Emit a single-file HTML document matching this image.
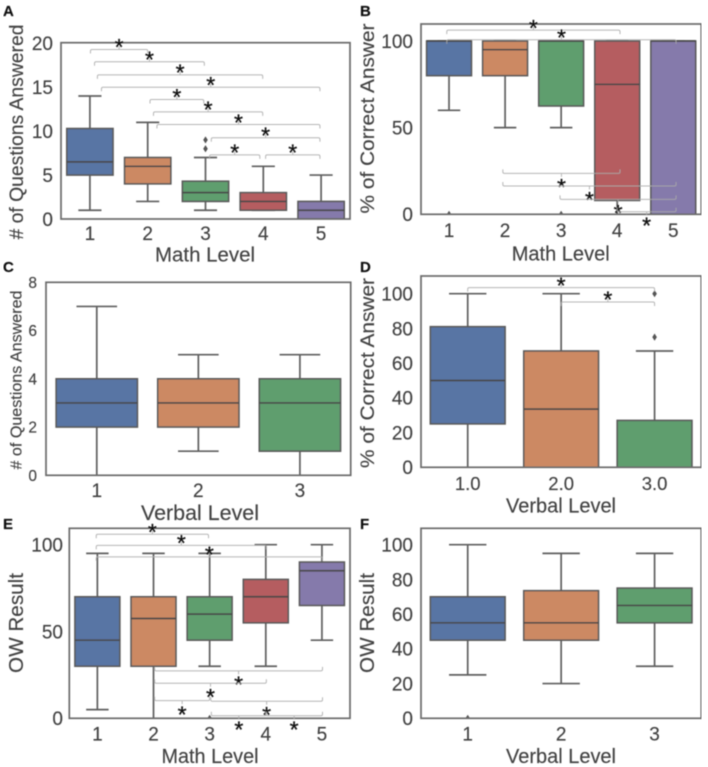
<!DOCTYPE html>
<html lang="en">
<head>
<meta charset="utf-8">
<title>Box plots by math and verbal level</title>
<style>
html,body{margin:0;padding:0;background:#fff;width:708px;height:767px;overflow:hidden}
svg{display:block}
text{font-family:"Liberation Sans",Arial,sans-serif;fill:#424242;stroke:#424242;stroke-width:0.15}
</style>
</head>
<body>
<svg id="figure" xmlns="http://www.w3.org/2000/svg" width="708" height="767" viewBox="0 0 708 767">
<defs>
<filter id="soft" x="0" y="0" width="100%" height="100%"><feGaussianBlur stdDeviation="0.4"/></filter>
</defs>
<g id="root" filter="url(#soft)"></g>
</svg>
<script>
// Panel A
const aCategories = ["1","2","3","4","5"];
const aLow = [1,2,1,1,0];
const aQ1 = [5,4,2,1,0];
const aMedian = [6.5,6,3,2,1];
const aQ3 = [10.3,7,4.3,3,2];
const aHigh = [14,11,7,6,5];
const aFliers = [[],[],[8,9],[],[]];
const aTicks = [0,5,10,15,20];
const aBracketFrom = [1.01,1.08,1.13,1.2,2.04,2.1,2.16,3.1,3.07,4.04];
const aBracketTo = [2,2.98,3.99,4.98,2.97,3.99,4.98,4.98,3.94,4.98];
const aBracketLevel = [19.3,17.9,16.4,15,13.6,12.2,10.75,9.25,7.3,7.3];
const aBracketSide = [1,1,1,1,1,1,1,1,1,1];

// Panel B
const bCategories = ["1","2","3","4","5"];
const bLow = [60,50,50,0,0];
const bQ1 = [80,80,62.5,8,0];
const bMedian = [100,95,100,75,100];
const bQ3 = [100,100,100,100,100];
const bHigh = [100,100,100,100,100];
const bFliers = [[0],[],[0],[],[]];
const bTicks = [0,50,100];
const bBracketFrom = [0.96,0.96,1.96,1.96,2.98,4];
const bBracketTo = [4.05,5.05,4.05,5.05,5.05,5.05];
const bBracketLevel = [106.3,100.7,23.6,16.3,8.6,1.5];
const bBracketSide = [1,1,-1,-1,-1,-1];

// Panel C
const cCategories = ["1","2","3"];
const cLow = [0,1,0];
const cQ1 = [2,2,1];
const cMedian = [3,3,3];
const cQ3 = [4,4,4];
const cHigh = [7,5,5];
const cFliers = [[],[],[]];
const cTicks = [0,2,4,6,8];
const cBracketFrom = [];
const cBracketTo = [];
const cBracketLevel = [];
const cBracketSide = [];

// Panel D
const dCategories = ["1.0","2.0","3.0"];
const dLow = [0,0,0];
const dQ1 = [25,0,0];
const dMedian = [50,33.5,0];
const dQ3 = [81,67,27];
const dHigh = [100,100,67];
const dFliers = [[],[],[75,100]];
const dTicks = [0,20,40,60,80,100];
const dBracketFrom = [1,2];
const dBracketTo = [3,3];
const dBracketLevel = [103.5,95.2];
const dBracketSide = [1,1];

// Panel E
const eCategories = ["1","2","3","4","5"];
const eLow = [5,0,30,30,45];
const eQ1 = [30,30,45,55,65];
const eMedian = [45,57.5,60,70,85];
const eQ3 = [70,70,70,80,90];
const eHigh = [95,95,95,100,100];
const eFliers = [[],[],[0],[],[]];
const eTicks = [0,50,100];
const eBracketFrom = [0.98,0.98,0.98,2.02,2.02,2.02,3.02,3.03,4];
const eBracketTo = [2.98,4.01,5.01,5.01,4.01,3,5.01,4.01,5.01];
const eBracketLevel = [106,99.6,93,27.3,20.2,10.2,9.8,1.5,1.5];
const eBracketSide = [1,1,1,-1,-1,-1,-1,-1,-1];

// Panel F
const fCategories = ["1","2","3"];
const fLow = [25,20,30];
const fQ1 = [45,45,55];
const fMedian = [55,55,65];
const fQ3 = [70,73.5,75];
const fHigh = [100,95,95];
const fFliers = [[0],[],[]];
const fTicks = [0,20,40,60,80,100];
const fBracketFrom = [];
const fBracketTo = [];
const fBracketLevel = [];
const fBracketSide = [];

const boxColors = ["#5875a4","#cc8963","#5f9e6e","#b55d60","#857aab"];
const NS = "http://www.w3.org/2000/svg";
const root = document.getElementById("root");

function make(tag, parent, attrs, content){
  const el = document.createElementNS(NS, tag);
  for (const k in attrs) el.setAttribute(k, attrs[k]);
  if (content !== undefined) el.textContent = content;
  parent.appendChild(el);
  return el;
}

function drawPanel(p){
  const g = make("g", root, {});
  
  

  const unit = (p.right - p.left) / p.categories.length;
  const xAt = function(c){ return p.left + unit * (c - 0.5); };
  const yAt = function(v){ return p.bottom - (v / p.yMax) * (p.bottom - p.yMaxPos); };

  const letter = make("text", g, {x:p.letterX, y:p.letterY, "font-size":15, "font-weight":"bold", style:"fill:#111;stroke:#111"}, p.id);
  
  

  const clipId = "clip-" + p.id;
  const defs = make("clipPath", g, {id:clipId});
  make("rect", defs, {x:p.left, y:p.top, width:p.right-p.left, height:p.bottom-p.top});

  const plot = make("g", g, {"clip-path":"url(#"+clipId+")"});
  
  

  p.categories.forEach(function(cat, i){
    const cx = xAt(i + 1);
    const bw = unit * 0.8, cw = unit * 0.4;
    const box = make("g", plot, {});
    
    
    const lineStyle = {stroke:"#5e5e5e", "stroke-width":1.7, fill:"none"};
    make("line", box, Object.assign({x1:cx, x2:cx, y1:yAt(p.q3[i]), y2:yAt(p.high[i])}, lineStyle));
    make("line", box, Object.assign({x1:cx, x2:cx, y1:yAt(p.q1[i]), y2:yAt(p.low[i])}, lineStyle));
    make("line", box, Object.assign({x1:cx-cw/2, x2:cx+cw/2, y1:yAt(p.high[i]), y2:yAt(p.high[i])}, lineStyle));
    make("line", box, Object.assign({x1:cx-cw/2, x2:cx+cw/2, y1:yAt(p.low[i]), y2:yAt(p.low[i])}, lineStyle));
    make("rect", box, {x:cx-bw/2, y:yAt(p.q3[i]), width:bw, height:Math.max(0, yAt(p.q1[i])-yAt(p.q3[i])), fill:boxColors[i], stroke:"#5a5a5a", "stroke-width":1.6});
    make("line", box, {x1:cx-bw/2, x2:cx+bw/2, y1:yAt(p.median[i]), y2:yAt(p.median[i]), stroke:"#4a4a4a", "stroke-width":1.7});
    p.fliers[i].forEach(function(v){
      const fy = yAt(v);
      const d = make("path", box, {d:"M"+cx+" "+(fy-3.6)+"L"+(cx+2.3)+" "+fy+"L"+cx+" "+(fy+3.6)+"L"+(cx-2.3)+" "+fy+"Z", fill:"#555"});
      
      
    });
  });

  const frame = make("rect", g, {x:p.left, y:p.top, width:p.right-p.left, height:p.bottom-p.top, fill:"none", stroke:"#6a6a6a", "stroke-width":1.7});
  
  

  p.bracketFrom.forEach(function(from, i){
    const side = p.bracketSide[i];
    const x1 = xAt(from), x2 = xAt(p.bracketTo[i]), y = yAt(p.bracketLevel[i]);
    const tip = 4, r = 1.5, mid = (x1 + x2) / 2;
    const sign = side;
    const d = "M"+x1+" "+(y+sign*tip)+"L"+x1+" "+(y+sign*r)+"Q"+x1+" "+y+" "+(x1+r)+" "+y+
              "L"+(x2-r)+" "+y+"Q"+x2+" "+y+" "+x2+" "+(y+sign*r)+"L"+x2+" "+(y+sign*tip)+
              "M"+mid+" "+y+"L"+mid+" "+(y-sign*3.5);
    const b = make("path", g, {d:d, fill:"none", stroke:"#a9a9a9", "stroke-width":1, opacity:0.85});
    
    
    const starCenter = side > 0 ? y - 7.5 : y + 8.5;
    const s = make("text", g, {x:mid, y:starCenter + 13.2, "text-anchor":"middle", "font-size":23, style:"fill:#111;stroke:#111;stroke-width:0.3"}, "*");
    
    
  });

  p.ticks.forEach(function(t){
    const lab = make("text", g, {x:p.tickRight, y:yAt(t)+p.yTickSize*0.36, "text-anchor":"end", "font-size":p.yTickSize}, String(t));
    
    
  });
  p.categories.forEach(function(cat, i){
    const lab = make("text", g, {x:xAt(i+1), y:p.xTickY, "text-anchor":"middle", "font-size":p.xTickSize}, cat);
    
    
  });

  const xl = make("text", g, {x:p.xLabelX, y:p.xLabelY, "text-anchor":"middle", "font-size":p.xLabelSize, textLength:p.xLabelLen, lengthAdjust:"spacingAndGlyphs"}, p.xLabel);
  
  
  const yl = make("text", g, {transform:"translate("+p.yLabelX+" "+p.yLabelY+") rotate(-90)", "text-anchor":"middle", "font-size":p.yLabelSize, textLength:p.yLabelLen, lengthAdjust:"spacingAndGlyphs"}, p.yLabel);
  
  
}

drawPanel({id:"A", left:61, right:350, top:42.7, bottom:219, yMax:20, yMaxPos:43.3,
  categories:aCategories, low:aLow, q1:aQ1, median:aMedian, q3:aQ3, high:aHigh, fliers:aFliers, ticks:aTicks,
  bracketFrom:aBracketFrom, bracketTo:aBracketTo, bracketLevel:aBracketLevel, bracketSide:aBracketSide,
  letterX:3, letterY:16, tickRight:53, yTickSize:19, xTickY:240, xTickSize:19,
  xLabel:"Math Level", xLabelX:205, xLabelY:261.5, xLabelSize:20.5, xLabelLen:100,
  yLabel:"# of Questions Answered", yLabelX:23, yLabelY:132, yLabelSize:19.5, yLabelLen:215});

drawPanel({id:"B", left:421, right:701.3, top:24, bottom:214.3, yMax:100, yMaxPos:41,
  categories:bCategories, low:bLow, q1:bQ1, median:bMedian, q3:bQ3, high:bHigh, fliers:bFliers, ticks:bTicks,
  bracketFrom:bBracketFrom, bracketTo:bBracketTo, bracketLevel:bBracketLevel, bracketSide:bBracketSide,
  letterX:360, letterY:16, tickRight:413, yTickSize:19, xTickY:237, xTickSize:19,
  xLabel:"Math Level", xLabelX:560.7, xLabelY:260.5, xLabelSize:20.5, xLabelLen:98,
  yLabel:"% of Correct Answer", yLabelX:374, yLabelY:118.5, yLabelSize:19.5, yLabelLen:190});

drawPanel({id:"C", left:46, right:350.7, top:282.3, bottom:475.3, yMax:8, yMaxPos:282.3,
  categories:cCategories, low:cLow, q1:cQ1, median:cMedian, q3:cQ3, high:cHigh, fliers:cFliers, ticks:cTicks,
  bracketFrom:cBracketFrom, bracketTo:cBracketTo, bracketLevel:cBracketLevel, bracketSide:cBracketSide,
  letterX:3, letterY:272, tickRight:37, yTickSize:15.5, xTickY:497, xTickSize:19,
  xLabel:"Verbal Level", xLabelX:200, xLabelY:520, xLabelSize:21, xLabelLen:118,
  yLabel:"# of Questions Answered", yLabelX:21.5, yLabelY:380, yLabelSize:16, yLabelLen:179});

drawPanel({id:"D", left:421, right:701.3, top:276, bottom:467.3, yMax:100, yMaxPos:293.7,
  categories:dCategories, low:dLow, q1:dQ1, median:dMedian, q3:dQ3, high:dHigh, fliers:dFliers, ticks:dTicks,
  bracketFrom:dBracketFrom, bracketTo:dBracketTo, bracketLevel:dBracketLevel, bracketSide:dBracketSide,
  letterX:360, letterY:272, tickRight:413, yTickSize:19, xTickY:490, xTickSize:18.5,
  xLabel:"Verbal Level", xLabelX:561, xLabelY:512.5, xLabelSize:20, xLabelLen:110,
  yLabel:"% of Correct Answer", yLabelX:374, yLabelY:373, yLabelSize:19.5, yLabelLen:190});

drawPanel({id:"E", left:69.3, right:350, top:528.3, bottom:718.3, yMax:100, yMaxPos:544.7,
  categories:eCategories, low:eLow, q1:eQ1, median:eMedian, q3:eQ3, high:eHigh, fliers:eFliers, ticks:eTicks,
  bracketFrom:eBracketFrom, bracketTo:eBracketTo, bracketLevel:eBracketLevel, bracketSide:eBracketSide,
  letterX:3, letterY:529, tickRight:63, yTickSize:19, xTickY:740.5, xTickSize:19,
  xLabel:"Math Level", xLabelX:210, xLabelY:763, xLabelSize:20.5, xLabelLen:97,
  yLabel:"OW Result", yLabelX:23, yLabelY:623, yLabelSize:20.5, yLabelLen:100});

drawPanel({id:"F", left:421, right:701.3, top:528.3, bottom:718.3, yMax:100, yMaxPos:544.7,
  categories:fCategories, low:fLow, q1:fQ1, median:fMedian, q3:fQ3, high:fHigh, fliers:fFliers, ticks:fTicks,
  bracketFrom:fBracketFrom, bracketTo:fBracketTo, bracketLevel:fBracketLevel, bracketSide:fBracketSide,
  letterX:360, letterY:529, tickRight:413, yTickSize:19, xTickY:740.5, xTickSize:19,
  xLabel:"Verbal Level", xLabelX:561, xLabelY:763, xLabelSize:20.5, xLabelLen:110,
  yLabel:"OW Result", yLabelX:374, yLabelY:623, yLabelSize:20.5, yLabelLen:100});
</script>
</body>
</html>
